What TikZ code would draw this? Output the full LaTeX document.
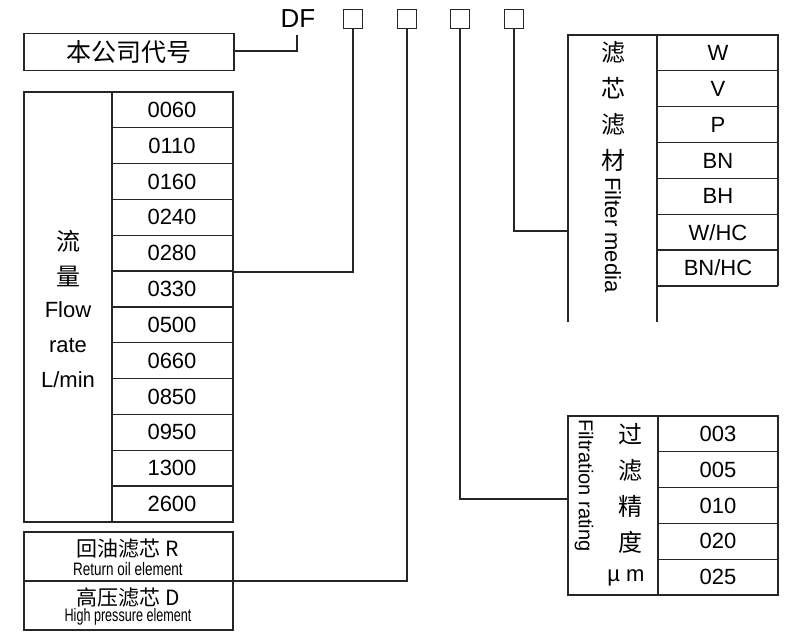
\documentclass[tikz,border=0pt]{standalone}
\usepackage{fontspec}
\setmainfont{Liberation Sans}
\newfontfamily\cjk{Noto Sans CJK SC}
\begin{document}
\begin{tikzpicture}[x=1pt,y=-1pt,
  ln/.style={draw=black!85,line width=1.3pt},
  num/.style={font=\fontsize{22}{24}\selectfont},
  ch/.style={font=\cjk\fontsize{24}{26}\selectfont},
  sq/.style={draw=black!85,line width=1.2pt,minimum size=19pt,inner sep=0pt}]
\useasboundingbox (0,0) rectangle (800,644);
% top code
\node[num,font=\fontsize{26}{28}\selectfont] (df) at (298,19) {DF};
\node[sq] (s1) at (353,19) {};
\node[sq] (s2) at (407,19) {};
\node[sq] (s3) at (460,19) {};
\node[sq] (s4) at (514,19) {};
% company code
\node[ln,minimum width=210pt,minimum height=37pt,font=\cjk\fontsize{25}{27}\selectfont] (co) at (129,52) {本公司代号};
\coordinate (dfb) at (297,35);
\draw[ln] (co.east |- 0,51) -- (297,51) -- (dfb);
% flow table
\draw[ln] (24,92) rectangle (233,522);
\draw[ln] (112,92) -- (112,522);
\foreach \v [count=\i] in {0060,0110,0160,0240,0280,0330,0500,0660,0850,0950,1300,2600}{
  \pgfmathsetmacro\ya{92+(\i-1)*35.83}
  \pgfmathsetmacro\yc{\ya+17.9}
  \node[num] (f\i) at (172,\yc) {\v};
  \ifnum\i>1 \draw[ln] (112,\ya) -- (233,\ya);\fi
}
\node[ch] (fl1) at (68,241) {流};
\node[ch] (fl2) at (68,276) {量};
\node[num] (fl3) at (68,310) {Flow};
\node[num] (fl4) at (68,345) {rate};
\node[num] (fl5) at (68,380) {L/min};
% R / D box
\draw[ln] (24,532) rectangle (233,630);
\draw[ln] (24,581) -- (233,581);
\node[font=\cjk\fontsize{21}{22}\selectfont] (r1) at (128,549) {回油滤芯 R};
\node[font=\fontsize{18}{19}\selectfont,xscale=0.75] (r2) at (128,569) {Return oil element};
\node[font=\cjk\fontsize{21}{22}\selectfont] (d1) at (128,598) {高压滤芯 D};
\node[font=\fontsize{18}{19}\selectfont,xscale=0.7] (d2) at (128,617) {High pressure element};
\coordinate (rd) at (233,581);
% filter media
\draw[ln] (568,322) -- (568,35) -- (778,35) -- (778,286);
\draw[ln] (657,35) -- (657,322);
\foreach \v [count=\i] in {W,V,P,BN,BH,W/HC,BN/HC}{
  \pgfmathsetmacro\ya{35+\i*35.85}
  \pgfmathsetmacro\yc{\ya-17.9}
  \node[num] (m\i) at (718,\yc) {\v};
  \draw[ln] (657,\ya) -- (778,\ya);
}
\node[ch] (mc1) at (613,52) {滤};
\node[ch] (mc2) at (613,88) {芯};
\node[ch] (mc3) at (613,124) {滤};
\node[ch] (mc4) at (613,160) {材};
\node[num,rotate=-90,anchor=west] (mc5) at (613,174) {Filter media};
\coordinate (fm) at (568,231);
% filtration rating
\draw[ln] (568,416) rectangle (778,595);
\draw[ln] (658,416) -- (658,595);
\foreach \v [count=\i] in {003,005,010,020,025}{
  \pgfmathsetmacro\ya{416+\i*35.8}
  \pgfmathsetmacro\yc{\ya-17.9}
  \node[num] (r\i) at (718,\yc) {\v};
  \ifnum\i<5 \draw[ln] (658,\ya) -- (778,\ya);\fi
}
\node[ch] (rc1) at (630,434) {过};
\node[ch] (rc2) at (630,470) {滤};
\node[ch] (rc3) at (630,506) {精};
\node[ch] (rc4) at (630,542) {度};
\node[num] (rc5) at (626,578) {µ m};
\node[rotate=-90,anchor=west,font=\fontsize{20}{22}\selectfont,inner sep=1pt] (rc6) at (584,418) {Filtration rating};
\coordinate (fr) at (568,499);
% connectors
\draw[ln] (s1.south) -- (353,272) -- (233,272);
\draw[ln] (s2.south) -- (407,581) -- (rd);
\draw[ln] (s3.south) -- (460,499) -- (fr);
\draw[ln] (s4.south) -- (514,231) -- (fm);
\end{tikzpicture}
\end{document}
